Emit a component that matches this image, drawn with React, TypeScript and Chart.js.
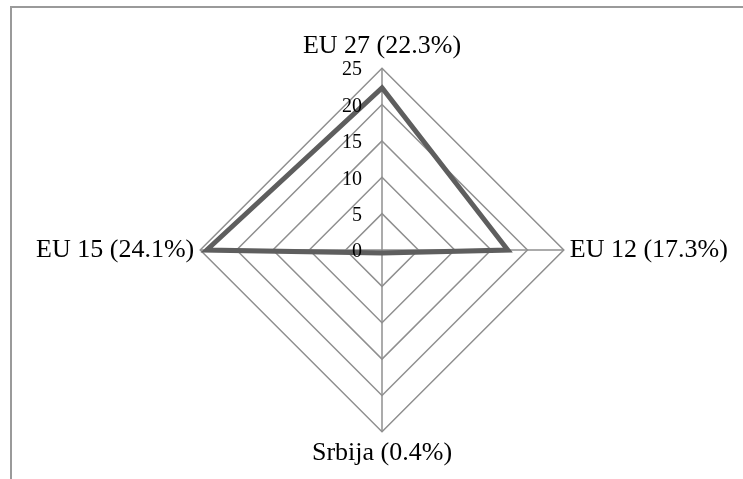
import React, { useEffect, useRef } from "react";
import { Chart, registerables } from "chart.js";

Chart.register(...registerables);

const categories = ["EU 27 (22.3%)", "EU 12 (17.3%)", "Srbija (0.4%)", "EU 15 (24.1%)"];
const seriesValues = [22.3, 17.3, 0.4, 24.1];
const tickMin = 0;
const tickMax = 25;
const tickStep = 5;

const FONT = '"Liberation Serif", "Times New Roman", serif';

const tickLabelPlugin = {
  id: "tickLabelsLeft",
  afterDatasetsDraw(chart: any) {
    const s = chart.scales.r;
    const ctx = chart.ctx;
    ctx.save();
    ctx.font = `20px ${FONT}`;
    ctx.fillStyle = "#000";
    ctx.textAlign = "right";
    ctx.textBaseline = "middle";
    s.ticks.forEach((t: any) => {
      const d = s.getDistanceFromCenterForValue(t.value);
      ctx.fillText(String(t.value), s.xCenter - 20, s.yCenter - d + 2);
    });
    ctx.restore();
  },
};

export default function App() {
  const ref = useRef<HTMLCanvasElement | null>(null);
  useEffect(() => {
    if (!ref.current) return;
    const chart = new Chart(ref.current, {
      type: "radar",
      data: {
        labels: categories,
        datasets: [
          {
            data: seriesValues,
            borderColor: "#5e5e5e",
            borderWidth: 5,
            pointRadius: 0,
            pointHoverRadius: 0,
            fill: false,
            tension: 0,
          },
        ],
      },
      options: {
        animation: false,
        responsive: false,
        devicePixelRatio: 1,
        layout: { padding: { left: 21, right: 0, top: 31, bottom: 10 } },
        plugins: { legend: { display: false }, tooltip: { enabled: false } },
        scales: {
          r: {
            min: tickMin,
            max: tickMax,
            beginAtZero: true,
            ticks: { stepSize: tickStep, display: false },
            grid: { color: "#8f8f8f", lineWidth: 1.5 },
            angleLines: { color: "#8f8f8f", lineWidth: 1.5 },
            pointLabels: {
              color: "#000",
              padding: 6,
              font: { family: FONT, size: 26 },
            },
          },
        },
      },
      plugins: [tickLabelPlugin],
    });
    return () => chart.destroy();
  }, []);

  return (
    <div
      style={{
        position: "fixed",
        left: 0,
        top: 0,
        width: 743,
        height: 479,
        overflow: "hidden",
        background: "#fff",
      }}
    >
      <div
        style={{
          position: "absolute",
          left: 10,
          top: 6,
          width: 900,
          height: 700,
          border: "2px solid #9a9a9a",
        }}
      />
      <canvas
        ref={ref}
        width={743}
        height={479}
        style={{ position: "absolute", left: 0, top: 0, width: 743, height: 479 }}
      />
    </div>
  );
}
